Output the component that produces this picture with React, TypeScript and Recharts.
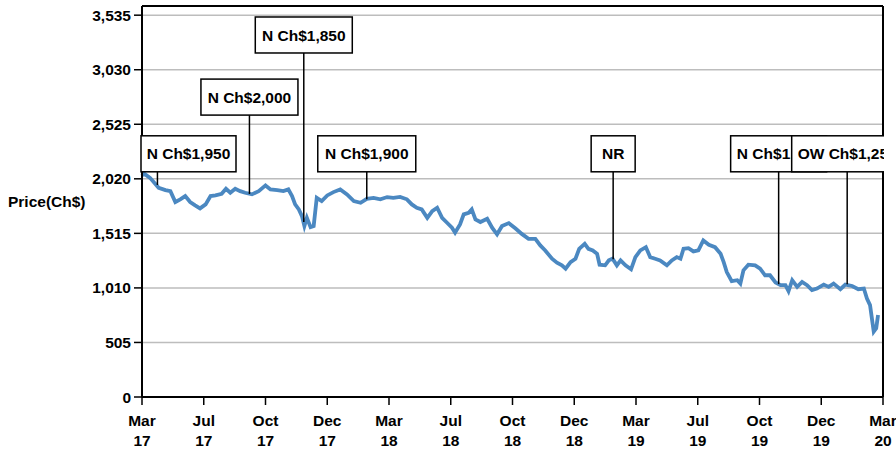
import { LineChart, Line, XAxis, YAxis, CartesianGrid, ReferenceLine, ReferenceDot } from "recharts"

// x positions are evenly spaced tick slots (10 units per labelled slot)
const monthLabels = ["Mar", "Jul", "Oct", "Dec", "Mar", "Jul", "Oct", "Dec", "Mar", "Jul", "Oct", "Dec", "Mar"]
const yearLabels = ["17", "17", "17", "17", "18", "18", "18", "18", "19", "19", "19", "19", "20"]
const xTicks = [0, 10, 20, 30, 40, 50, 60, 70, 80, 90, 100, 110, 120]
const yTicks = [0, 505, 1010, 1515, 2020, 2525, 3030, 3535]

const pointT = [
  0, 0.3, 1.3, 2.7, 3.8, 4.6, 5.4, 6.2, 7.0, 7.8, 8.6, 9.4, 10.3, 11.1, 11.9, 12.9, 13.6, 14.3, 15.1, 15.9,
  16.7, 17.8, 18.9, 20.0, 20.8, 21.9, 22.9, 23.7, 24.3, 24.8, 25.4, 25.9, 26.3, 26.7, 27.3, 27.8, 28.3, 29.1,
  30.0, 31.0, 32.1, 33.2, 34.3, 35.4, 36.4, 37.5, 38.6, 39.7, 40.7, 41.8, 42.9, 43.7, 44.5, 45.3, 46.2, 47.0,
  47.8, 48.6, 49.4, 50.2, 50.7, 51.5, 52.1, 52.9, 53.4, 54.0, 54.8, 55.9, 56.7, 57.5, 58.3, 59.4,
  60.5, 61.5, 62.6, 63.7, 64.5, 65.3, 66.4, 67.2, 68.0, 68.6, 69.4, 70.2, 70.8, 71.7, 72.3, 73.0, 73.7, 74.1,
  75.0, 75.6, 76.2, 76.9, 77.5, 78.3, 79.2, 79.9, 80.7, 81.6, 82.3, 83.1, 83.9, 85.0, 85.8, 86.6, 87.2, 87.7,
  88.5, 89.3, 90.1, 90.9, 91.8, 92.8, 93.7, 94.2, 94.7, 95.5, 96.4, 96.9, 97.4, 98.2, 99.3, 100.1, 100.9,
  101.7, 102.6, 103.4, 104.2, 104.7, 105.3, 106.1, 106.9, 107.7, 108.5, 109.3, 110.4, 111.2, 112.0, 113.1,
  113.9, 115.0, 116.0, 116.9, 117.4, 117.9, 118.2, 118.5, 118.9, 119.2,
]
const pointPrice = [
  2050, 2070, 2029, 1937, 1916, 1906, 1805, 1830, 1860, 1805, 1774, 1746, 1783, 1860, 1866, 1881, 1928, 1891, 1928, 1906,
  1891, 1876, 1906, 1959, 1922, 1916, 1906, 1922, 1860, 1783, 1737, 1675, 1583, 1659, 1573, 1583, 1844, 1814,
  1866, 1897, 1922, 1876, 1814, 1798, 1835, 1844, 1830, 1851, 1844, 1853, 1830, 1783, 1752, 1737, 1659, 1721,
  1752, 1659, 1613, 1567, 1521, 1598, 1691, 1706, 1737, 1645, 1620, 1650, 1567, 1506, 1583, 1610,
  1560, 1510, 1464, 1464, 1403, 1357, 1280, 1244, 1219, 1188, 1249, 1280, 1372, 1418, 1372, 1357, 1326, 1225,
  1219, 1265, 1280, 1219, 1265, 1219, 1182, 1295, 1357, 1387, 1295, 1280, 1265, 1219, 1265, 1295, 1280, 1372,
  1378, 1348, 1357, 1449, 1409, 1387, 1326, 1249, 1157, 1072, 1081, 1050, 1173, 1225, 1219, 1188, 1127,
  1127, 1060, 1035, 1035, 980, 1081, 1019, 1065, 1035, 989, 1004, 1041, 1019, 1050, 998,
  1041, 1028, 998, 1004, 912, 851, 728, 605, 636, 759,
]

const noteLabels = ["N Ch$1,950", "N Ch$2,000", "N Ch$1,850", "N Ch$1,900", "NR", "N Ch$1,350", "OW Ch$1,250"]
const noteT = [2.5, 17.4, 26.2, 36.4, 76.3, 103.1, 114.2]
const notePrice = [1963, 1880, 1620, 1830, 1275, 1045, 1045]

// layout of the callout boxes
const boxBottom = [2085, 2610, 3185, 2085, 2085, 2085, 2085]
const boxWidth = [95, 97, 97, 98, 44, 96, 111]
const BOX_H = 36
const PLOT_LEFT = 142
const PLOT_RIGHT = 883

const data = pointT.map((t, i) => ({ t, price: pointPrice[i] }))

const FONT = "'Liberation Sans', Arial, sans-serif"
const FS = 15.5

function XTick({ x, y, payload }: any) {
  const i = xTicks.indexOf(payload.value)
  return (
    <text x={x} y={y} textAnchor="middle" fontSize={FS} fontWeight="bold" fill="#000">
      <tspan x={x} dy={19}>{monthLabels[i]}</tspan>
      <tspan x={x} dy={20}>{yearLabels[i]}</tspan>
    </text>
  )
}

function makeBox(i: number) {
  return (props: any) => {
    const { cx, cy } = props
    const w = boxWidth[i]
    const left = Math.max(PLOT_LEFT - 1, cx - w / 2)
    const clipId = `note-clip-${i}`
    return (
      <g>
        <defs>
          <clipPath id={clipId}>
            <rect x={PLOT_LEFT - 2} y={0} width={PLOT_RIGHT - PLOT_LEFT + 3} height={453} />
          </clipPath>
        </defs>
        <g clipPath={`url(#${clipId})`}>
          <rect x={left} y={cy - BOX_H} width={w} height={BOX_H} fill="#fff" stroke="#000" strokeWidth={1.5} />
          <text
            x={left + w / 2}
            y={cy - BOX_H / 2}
            dy="0.36em"
            textAnchor="middle"
            fontSize={FS}
            fontWeight="bold"
            fill="#000"
          >
            {noteLabels[i]}
          </text>
        </g>
      </g>
    )
  }
}

export default function App() {
  return (
    <div style={{ position: "absolute", left: 0, top: 0, fontFamily: FONT }}>
      <LineChart width={896} height={453} data={data} margin={{ top: 6, right: 13, bottom: 0, left: 0 }}>
        <CartesianGrid vertical={false} stroke="#bdbdbd" strokeWidth={1.5} />
        <XAxis
          dataKey="t"
          type="number"
          domain={[0, 120]}
          ticks={xTicks}
          interval={0}
          height={56}
          tickSize={8}
          tick={<XTick />}
          axisLine={{ stroke: "#000", strokeWidth: 2 }}
          tickLine={{ stroke: "#000", strokeWidth: 1.5 }}
        />
        <YAxis
          type="number"
          domain={[0, 3620]}
          ticks={yTicks}
          interval={0}
          width={142}
          tickSize={8}
          tickMargin={3}
          tickFormatter={(v: number) => v.toLocaleString("en-US")}
          tick={{ fill: "#000", fontSize: FS, fontWeight: "bold" }}
          axisLine={{ stroke: "#000", strokeWidth: 2 }}
          tickLine={{ stroke: "#000", strokeWidth: 1.5 }}
          label={{
            value: "Price(Ch$)",
            position: "insideLeft",
            offset: 8,
            style: { fill: "#000", fontSize: FS, fontWeight: "bold" },
          }}
        />
        <ReferenceLine y={3620} stroke="#000" strokeWidth={2} ifOverflow="visible" />
        <ReferenceLine x={120} stroke="#000" strokeWidth={2} ifOverflow="visible" />
        <Line
          type="linear"
          dataKey="price"
          stroke="#4b88c1"
          strokeWidth={3.8}
          dot={false}
          isAnimationActive={false}
        />
        {noteT.map((t, i) => (
          <ReferenceLine
            key={`lead-${i}`}
            segment={[
              { x: t, y: notePrice[i] },
              { x: t, y: boxBottom[i] },
            ]}
            stroke="#000"
            strokeWidth={1.5}
          />
        ))}
        {noteT.map((t, i) => (
          <ReferenceDot
            key={`box-${i}`}
            x={t}
            y={boxBottom[i]}
            r={1}
            ifOverflow="hidden"
            shape={makeBox(i)}
          />
        ))}
      </LineChart>
    </div>
  )
}
